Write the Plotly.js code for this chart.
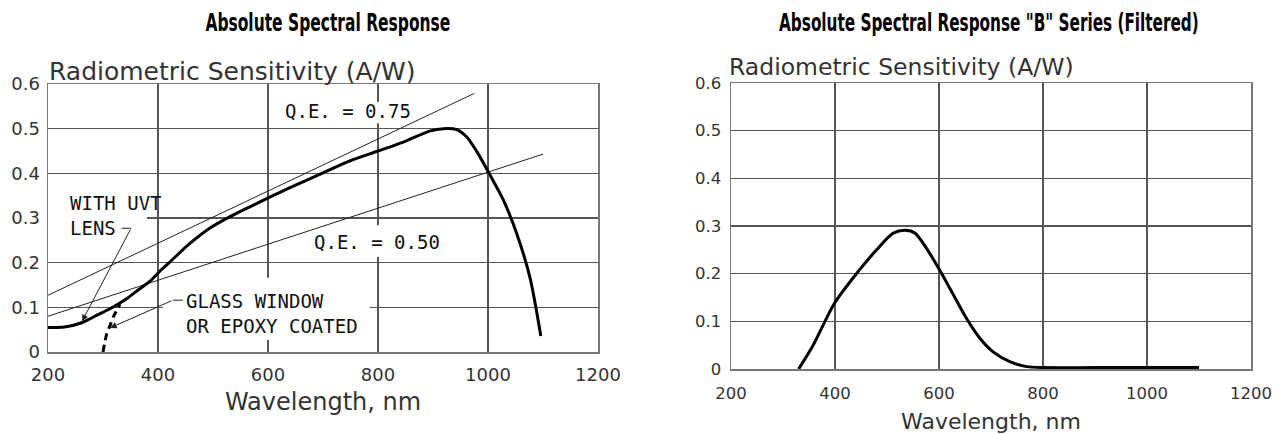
<!DOCTYPE html>
<html><head><meta charset="utf-8">
<script src="https://cdn.plot.ly/plotly-3.0.1.min.js"></script>
<style>html,body{margin:0;padding:0;background:#fff}#chart{width:1285px;height:434px}</style>
</head><body><div id="chart"></div>
<script>
// ---- Left chart: Absolute Spectral Response ----
const leftWavelength = [200, 230, 260, 290, 320, 345, 365, 385, 405, 422, 458, 494, 531, 567, 602, 640, 700, 749, 800, 846, 895, 919, 943, 961, 980, 1002, 1028, 1052, 1076, 1096];
const leftResponse   = [0.055, 0.056, 0.065, 0.083, 0.102, 0.121, 0.140, 0.158, 0.183, 0.202, 0.243, 0.277, 0.303, 0.325, 0.346, 0.368, 0.401, 0.428, 0.450, 0.470, 0.495, 0.500, 0.498, 0.482, 0.448, 0.400, 0.340, 0.266, 0.168, 0.036];
const glassWavelength = [300, 303, 307, 313, 319, 331];
const glassResponse   = [0.0, 0.02, 0.042, 0.06, 0.079, 0.107];
const qe75Wavelength = [200, 975];
const qe75Response   = [0.127, 0.579];
const qe50Wavelength = [200, 1100];
const qe50Response   = [0.080, 0.443];

// ---- Right chart: "B" Series (Filtered) ----
const rightWavelength = [330, 358, 399, 442, 480, 512, 535, 554, 576, 601, 628, 653, 679, 704, 737, 769, 801, 900, 1000, 1100];
const rightResponse   = [0.0, 0.050, 0.138, 0.201, 0.250, 0.285, 0.291, 0.285, 0.253, 0.208, 0.155, 0.106, 0.064, 0.036, 0.015, 0.005, 0.003, 0.003, 0.003, 0.003];

// ---- Text ----
const leftTitle = 'Absolute Spectral Response';
const rightTitle = 'Absolute Spectral Response "B" Series (Filtered)';
const yTitleText = 'Radiometric Sensitivity (A/W)';
const xTitleText = 'Wavelength, nm';
const tickValsX = [200, 400, 600, 800, 1000, 1200];
const tickValsY = [0, 0.1, 0.2, 0.3, 0.4, 0.5, 0.6];

const W = 1285, H = 434;
const px = v => v / W, py = v => (H - v) / H;

const textColor = '#333';
const sansFont = 'DejaVu Sans, Liberation Sans, sans-serif';
const monoFont = 'DejaVu Sans Mono, Liberation Mono, monospace';
const titleFont = 'DejaVu Sans, Liberation Sans, sans-serif';

const traces = [
  {x: qe75Wavelength, y: qe75Response, xaxis: 'x', yaxis: 'y', mode: 'lines', line: {color: '#222', width: 1}, hoverinfo: 'skip'},
  {x: qe50Wavelength, y: qe50Response, xaxis: 'x', yaxis: 'y', mode: 'lines', line: {color: '#222', width: 1}, hoverinfo: 'skip'},
  {x: leftWavelength, y: leftResponse, xaxis: 'x', yaxis: 'y', mode: 'lines', line: {color: '#000', width: 3, shape: 'spline', smoothing: 0.8}},
  {x: glassWavelength, y: glassResponse, xaxis: 'x', yaxis: 'y', mode: 'lines', line: {color: '#000', width: 3, dash: '7px,5px', shape: 'spline', smoothing: 0.6}},
  {x: rightWavelength, y: rightResponse, xaxis: 'x2', yaxis: 'y2', mode: 'lines', line: {color: '#000', width: 3, shape: 'spline', smoothing: 0.8}}
];

function axisCommon(extra) {
  return Object.assign({
    showgrid: true, gridcolor: '#555', gridwidth: 1.5, zeroline: false,
    showline: true, mirror: true, linecolor: '#777', linewidth: 1.5,
    ticks: 'outside', tickcolor: 'rgba(0,0,0,0)', fixedrange: true
  }, extra);
}

const layout = {
  width: W, height: H,
  margin: {l: 0, r: 0, t: 0, b: 0},
  paper_bgcolor: '#fff', plot_bgcolor: '#fff',
  showlegend: false,
  xaxis: axisCommon({domain: [px(48), px(598)], range: [200, 1200], tickvals: tickValsX, ticklen: 6, anchor: 'y',
    tickfont: {family: sansFont, size: 18, color: textColor},
    title: {text: xTitleText, font: {family: sansFont, size: 24, color: textColor}, standoff: 9}}),
  yaxis: axisCommon({domain: [py(352), py(84)], range: [0, 0.6], tickvals: tickValsY, ticklen: 3, anchor: 'x',
    tickfont: {family: sansFont, size: 18, color: textColor}}),
  xaxis2: axisCommon({domain: [px(731), px(1251)], range: [200, 1200], tickvals: tickValsX, ticklen: 9, anchor: 'y2',
    tickfont: {family: sansFont, size: 16.5, color: textColor},
    title: {text: xTitleText, font: {family: sansFont, size: 22, color: textColor}, standoff: 11}}),
  yaxis2: axisCommon({domain: [py(369), py(83)], range: [0, 0.6], tickvals: tickValsY, ticklen: 5, anchor: 'x2',
    tickfont: {family: sansFont, size: 16.5, color: textColor}}),
  shapes: [
    // white gaps that interrupt the grid behind the labels
    {type: 'rect', xref: 'x', yref: 'y', x0: 200, x1: 380, y0: 0.287, y1: 0.313, fillcolor: '#fff', line: {width: 0}, layer: 'between'},
    {type: 'rect', xref: 'x', yref: 'y', x0: 785, x1: 815, y0: 0.512, y1: 0.560, fillcolor: '#fff', line: {width: 0}, layer: 'between'},
    {type: 'rect', xref: 'x', yref: 'y', x0: 785, x1: 815, y0: 0.213, y1: 0.284, fillcolor: '#fff', line: {width: 0}, layer: 'between'},
    {type: 'rect', xref: 'x', yref: 'y', x0: 409, x1: 785, y0: 0.027, y1: 0.166, fillcolor: '#fff', line: {width: 0}, layer: 'between'},
    // short leader ticks
    {type: 'line', xref: 'x', yref: 'y', x0: 334, x1: 351, y0: 0.277, y1: 0.277, line: {color: '#222', width: 1}},
    {type: 'line', xref: 'x', yref: 'y', x0: 427, x1: 445, y0: 0.116, y1: 0.116, line: {color: '#222', width: 1}}
  ],
  annotations: [
    {xref: 'paper', yref: 'paper', x: px(328), y: py(22), text: leftTitle, showarrow: false,
     font: {family: titleFont, size: 22, color: '#000', weight: 'bold'}, xanchor: 'center', yanchor: 'middle'},
    {xref: 'paper', yref: 'paper', x: px(989), y: py(22), text: rightTitle, showarrow: false,
     font: {family: titleFont, size: 20, color: '#000', weight: 'bold'}, xanchor: 'center', yanchor: 'middle'},
    {xref: 'paper', yref: 'paper', x: px(47), y: py(71), text: yTitleText, showarrow: false,
     font: {family: sansFont, size: 25, color: textColor}, xanchor: 'left', yanchor: 'middle'},
    {xref: 'paper', yref: 'paper', x: px(727), y: py(67), text: yTitleText, showarrow: false,
     font: {family: sansFont, size: 23.5, color: textColor}, xanchor: 'left', yanchor: 'middle'},
    {xref: 'x', yref: 'y', x: 745, y: 0.539, text: 'Q.E. = 0.75', showarrow: false,
     font: {family: monoFont, size: 19, color: '#111'}, xanchor: 'center', yanchor: 'middle'},
    {xref: 'x', yref: 'y', x: 799, y: 0.246, text: 'Q.E. = 0.50', showarrow: false,
     font: {family: monoFont, size: 19, color: '#111'}, xanchor: 'center', yanchor: 'middle'},
    {xref: 'x', yref: 'y', x: 236, y: 0.306, text: 'WITH UVT<br>LENS', showarrow: false, align: 'left',
     font: {family: monoFont, size: 19, color: '#111'}, xanchor: 'left', yanchor: 'middle'},
    {xref: 'x', yref: 'y', x: 447, y: 0.087, text: 'GLASS WINDOW<br>OR EPOXY COATED', showarrow: false, align: 'left',
     font: {family: monoFont, size: 19, color: '#111'}, xanchor: 'left', yanchor: 'middle'},
    {xref: 'x', yref: 'y', axref: 'x', ayref: 'y', x: 262, y: 0.069, ax: 351, ay: 0.277, text: '', showarrow: true,
     arrowhead: 2, arrowsize: 1.3, arrowwidth: 1, arrowcolor: '#222', standoff: 0},
    {xref: 'x', yref: 'y', axref: 'x', ayref: 'y', x: 313, y: 0.054, ax: 427, ay: 0.116, text: '', showarrow: true,
     arrowhead: 2, arrowsize: 1.3, arrowwidth: 1, arrowcolor: '#222', standoff: 0}
  ]
};

// condensed look for the two bold headings: scale to the reference widths and cap height
const titleFit = {};
titleFit[leftTitle] = {w: 245, h: 18};
titleFit[rightTitle] = {w: 420, h: 18};

Plotly.newPlot('chart', traces, layout, {staticPlot: true, displayModeBar: false}).then(function () {
  document.querySelectorAll('text.annotation-text').forEach(function (t) {
    const f = titleFit[t.textContent];
    if (f) {
      const b = t.getBBox();
      const fs = parseFloat(t.style.fontSize) || 20;
      const sx = f.w / b.width;
      const sy = f.h / (0.729 * fs);
      const cx = b.x + b.width / 2, cy = b.y + b.height / 2;
      t.setAttribute('transform', 'translate(' + cx + ',' + cy + ') scale(' + sx + ',' + sy + ') translate(' + (-cx) + ',' + (-cy) + ')');
    }
  });
});
</script></body></html>
